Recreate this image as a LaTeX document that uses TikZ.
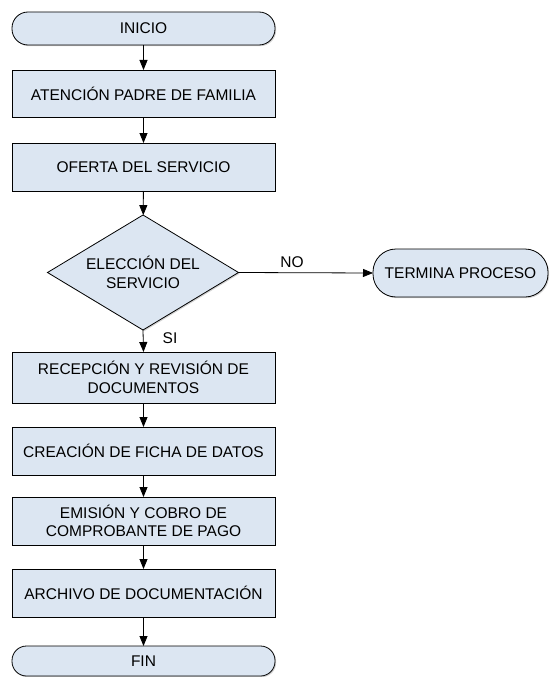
\documentclass[tikz,border=0pt]{standalone}
\usepackage{fontspec}
\setmainfont{Liberation Sans}
\usetikzlibrary{shapes.geometric,arrows.meta,shadows}
\definecolor{boxfill}{HTML}{DCE6F2}
\tikzset{
  base/.style={draw=black, line width=0.8pt, fill=boxfill, inner sep=0pt, outer sep=0pt,
    font=\fontsize{15.5}{18.5}\selectfont, align=center,
    drop shadow={opacity=0.35, shadow xshift=1.2pt, shadow yshift=-1.2pt}},
  procbox/.style={base, rectangle, minimum width=263pt, minimum height=48pt},
  termbox/.style={base, rectangle, rounded corners=#1},
  decbox/.style={base, diamond, aspect=1.66, minimum width=191pt, minimum height=115pt},
  conn/.style={draw=black, line width=0.8pt, -{Triangle[width=8pt,length=10pt]}},
  lbl/.style={font=\fontsize{15.5}{18.5}\selectfont, inner sep=0pt}
}
\begin{document}
\begin{tikzpicture}[x=1pt,y=-1pt]
\useasboundingbox (0,0) rectangle (550,677);
\node[termbox=16pt, minimum width=263pt, minimum height=33pt] (inicio) at (143.5,28.5) {INICIO};
\node[procbox, minimum height=47pt] (aten) at (143.5,93.5) {ATENCIÓN PADRE DE FAMILIA};
\node[procbox] (oferta) at (143.5,167) {OFERTA DEL SERVICIO};
\node[decbox] (elec) at (143,272.5) {ELECCIÓN DEL\\SERVICIO};
\node[termbox=23pt, minimum width=175pt, minimum height=48pt] (termina) at (460.5,273) {TERMINA PROCESO};
\node[procbox, minimum height=51pt] (recep) at (143.5,377.5) {RECEPCIÓN Y REVISIÓN DE\\DOCUMENTOS};
\node[procbox] (creac) at (143.5,451) {CREACIÓN DE FICHA DE DATOS};
\node[procbox] (emis) at (143.5,521) {EMISIÓN Y COBRO DE\\COMPROBANTE DE PAGO};
\node[procbox] (arch) at (143.5,593) {ARCHIVO DE DOCUMENTACIÓN};
\node[termbox=14.5pt, minimum width=263pt, minimum height=30pt] (fin) at (143.5,661) {FIN};
\draw[conn] (inicio) -- (aten);
\draw[conn] (aten) -- (oferta);
\draw[conn] (oferta) -- (elec);
\draw[conn] (elec.east) -- (termina.west);
\draw[conn] (elec.south) -- (recep.north);
\draw[conn] (recep) -- (creac);
\draw[conn] (creac) -- (emis);
\draw[conn] (emis) -- (arch);
\draw[conn] (arch) -- (fin);
\node[lbl] (no) at (292,262) {NO};
\node[lbl] (si) at (170,338) {SI};
\end{tikzpicture}
\end{document}
